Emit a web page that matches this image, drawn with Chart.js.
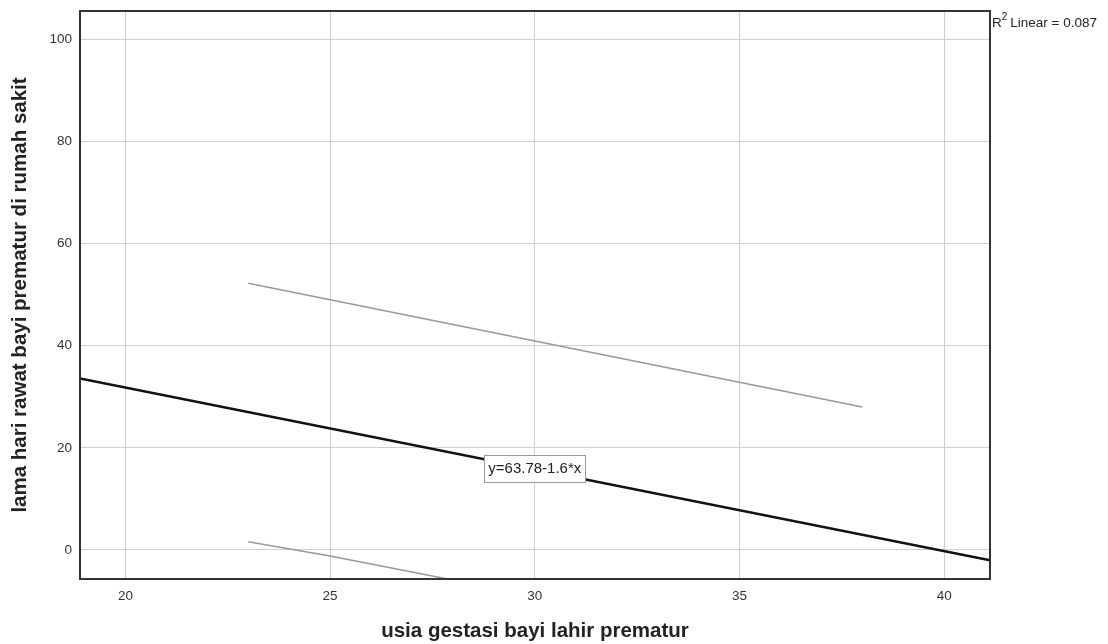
<!DOCTYPE html>
<html>
<head>
<meta charset="utf-8">
<script src="https://cdn.jsdelivr.net/npm/chart.js@4.4.0/dist/chart.umd.min.js"></script>
<style>
  html, body { margin: 0; padding: 0; background: #fff; }
  #wrap { width: 1108px; height: 644px; position: relative; }
</style>
</head>
<body>
<div id="wrap"><canvas id="chart"></canvas></div>
<script>
// axis ranges / ticks
const xRange = [18.89, 41.12];
const yRange = [-5.68, 105.5];
const xTickValues = [20, 25, 30, 35, 40];
const yTickValues = [0, 20, 40, 60, 80, 100];

// fit line endpoints (y=63.78-1.6*x) and the two grey interval lines
const fitX = [18.89, 41.12];
const fitY = [33.56, -2.01];
const upperX = [23, 38];
const upperY = [52.2, 28.0];
const lowerX = [23, 25, 27.87, 28.2];
const lowerY = [1.6, -1.17, -5.68, -6.1];

const fitLabel = 'y=63.78-1.6*x';
const fitLabelAt = [30, 16];
const r2Text = 'Linear = 0.087';

const toPts = (xs, ys) => xs.map((x, i) => ({ x: x, y: ys[i] }));

const FONT = '"Liberation Sans", Arial, sans-serif';

// frame + equation box + R2 text
const extras = {
    id: 'extras',
    afterDatasetsDraw(chart) {
        const { ctx, chartArea: a, scales } = chart;
        ctx.save();
        // equation label box
        ctx.font = '15px ' + FONT;
        const w = ctx.measureText(fitLabel).width + 8;
        const h = 27;
        const cx = scales.x.getPixelForValue(fitLabelAt[0]);
        const cy = scales.y.getPixelForValue(fitLabelAt[1]);
        ctx.fillStyle = '#fff';
        ctx.fillRect(cx - w / 2, cy - h / 2, w, h);
        ctx.strokeStyle = '#9a9a9a';
        ctx.lineWidth = 1;
        ctx.strokeRect(Math.round(cx - w / 2) + 0.5, Math.round(cy - h / 2) + 0.5, Math.round(w), h);
        ctx.fillStyle = '#222';
        ctx.textAlign = 'center';
        ctx.textBaseline = 'middle';
        ctx.fillText(fitLabel, cx, cy + 1);

        // frame
        ctx.strokeStyle = '#333';
        ctx.lineWidth = 2;
        ctx.strokeRect(a.left, a.top, a.right - a.left, a.bottom - a.top);

        // R2 label outside top-right
        ctx.textAlign = 'left';
        ctx.textBaseline = 'alphabetic';
        ctx.fillStyle = '#222';
        ctx.font = '13.5px ' + FONT;
        let x = a.right + 2;
        ctx.fillText('R', x, 27);
        x += ctx.measureText('R').width;
        ctx.font = '10px ' + FONT;
        ctx.fillText('2', x, 20);
        x += ctx.measureText('2').width + 3;
        ctx.font = '13.5px ' + FONT;
        ctx.fillText(r2Text, x, 27);
        ctx.restore();
    }
};

new Chart(document.getElementById('chart'), {
    type: 'scatter',
    data: {
        datasets: [
            { data: toPts(fitX, fitY), showLine: true, borderColor: '#111', borderWidth: 2.5, pointRadius: 0, clip: 0 },
            { data: toPts(upperX, upperY), showLine: true, borderColor: '#999', borderWidth: 1.5, pointRadius: 0, clip: 0 },
            { data: toPts(lowerX, lowerY), showLine: true, borderColor: '#999', borderWidth: 1.5, pointRadius: 0, clip: 0 }
        ]
    },
    options: {
        responsive: true, maintainAspectRatio: false, animation: false,
        layout: { padding: { left: 0, right: 118, top: 11, bottom: 0 } },
        plugins: { legend: { display: false }, tooltip: { enabled: false } },
        scales: {
            x: {
                type: 'linear', min: xRange[0], max: xRange[1],
                afterBuildTicks: s => { s.ticks = xTickValues.map(v => ({ value: v })); },
                afterFit: s => { s.height = 65; s.paddingLeft = 0; s.paddingRight = 0; },
                grid: { color: '#cfcfcf', lineWidth: 1, drawTicks: false },
                border: { display: false },
                ticks: { color: '#333', font: { family: FONT, size: 13.5 }, padding: 9, maxRotation: 0 },
                title: {
                    display: true, text: 'usia gestasi bayi lahir prematur', color: '#222',
                    font: { family: FONT, size: 20.5, weight: 'bold' }, padding: { top: 0, bottom: 0 }
                }
            },
            y: {
                type: 'linear', min: yRange[0], max: yRange[1],
                afterBuildTicks: s => { s.ticks = yTickValues.map(v => ({ value: v })); },
                afterFit: s => { s.width = 80; s.paddingTop = 0; s.paddingBottom = 0; },
                grid: { color: '#cfcfcf', lineWidth: 1, drawTicks: false },
                border: { display: false },
                ticks: { color: '#333', font: { family: FONT, size: 13.5 }, padding: 8 },
                title: {
                    display: true, text: 'lama hari rawat bayi prematur di rumah sakit', color: '#222',
                    font: { family: FONT, size: 20.5, weight: 'bold' }, padding: { top: 8, bottom: 0 }
                }
            }
        }
    },
    plugins: [extras]
});
</script>
</body>
</html>
